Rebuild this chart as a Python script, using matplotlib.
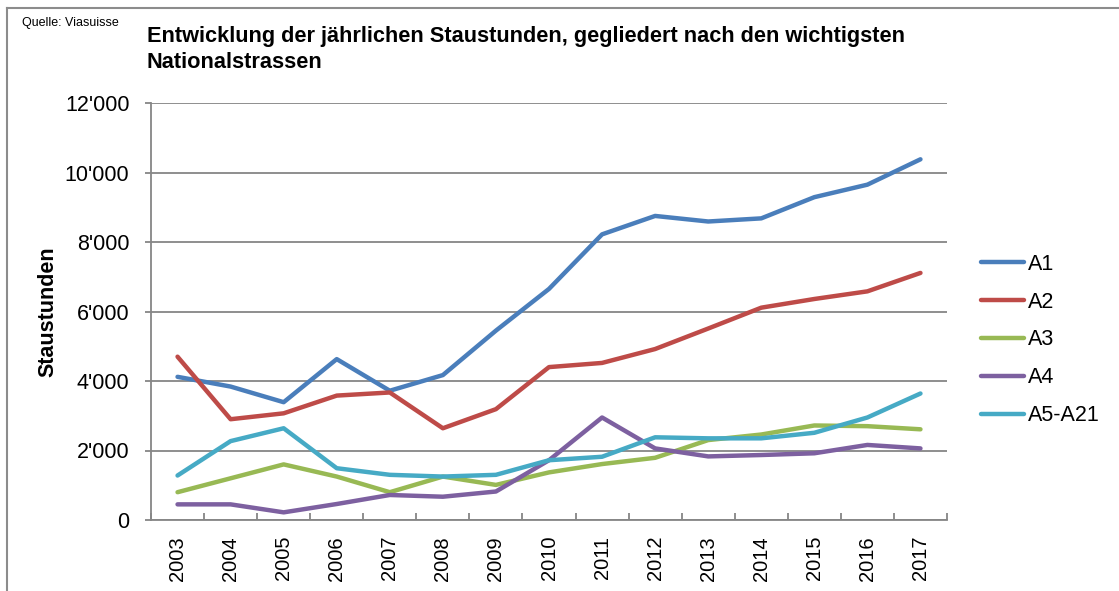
import matplotlib
matplotlib.use("Agg")
import matplotlib.pyplot as plt
from matplotlib.ticker import FuncFormatter, MultipleLocator, FixedLocator
from matplotlib.lines import Line2D

plt.rcParams['font.family'] = ['Liberation Sans', 'DejaVu Sans']

years = [str(y) for y in range(2003, 2018)]
a1 = [4120, 3840, 3390, 4630, 3720, 4170, 5450, 6650, 8220, 8750, 8590, 8680, 9290, 9650, 10380]
a2 = [4700, 2900, 3070, 3580, 3670, 2640, 3190, 4400, 4520, 4920, 5510, 6110, 6360, 6580, 7110]
a3 = [800, 1200, 1600, 1250, 800, 1250, 1010, 1370, 1610, 1790, 2300, 2460, 2720, 2700, 2610]
a4 = [450, 450, 220, 460, 720, 670, 820, 1720, 2950, 2060, 1830, 1870, 1920, 2160, 2060]
a5 = [1280, 2270, 2640, 1490, 1300, 1250, 1300, 1720, 1820, 2380, 2350, 2350, 2510, 2950, 3640]

series = [("A1", a1, "#4A7EBB"), ("A2", a2, "#BE4B48"), ("A3", a3, "#98B954"),
          ("A4", a4, "#7D60A0"), ("A5-A21", a5, "#46AAC5")]

title_lines = ["Entwicklung der jährlichen Staustunden, gegliedert nach den wichtigsten",
               "Nationalstrassen"]

fig = plt.figure(figsize=(11.19, 5.91), dpi=100)
ax = fig.add_axes([151/1119, 71/591, (947-151)/1119, (520-103)/591])

x = list(range(len(years)))
for name, vals, col in series:
    ax.plot(x, vals, color=col, lw=3.2, solid_capstyle='round', solid_joinstyle='round', label=name, zorder=3)

grid_col = "#868686"
ax.set_xlim(-0.5, len(years) - 0.5)
ax.set_ylim(0, 12000)
ax.yaxis.set_major_locator(MultipleLocator(2000))
ax.yaxis.set_major_formatter(FuncFormatter(lambda v, p: f"{int(v):,}".replace(",", "'")))
ax.grid(axis='y', color=grid_col, lw=1.3, zorder=1)
ax.set_axisbelow(True)

ax.set_xticks(x)
ax.set_xticklabels(years, rotation=90, fontsize=14.5)
ax.tick_params(axis='x', which='major', length=0, pad=11.5)
ax.xaxis.set_minor_locator(FixedLocator([i - 0.5 for i in range(len(years) + 1)]))
ax.tick_params(axis='x', which='minor', direction='in', length=5, color=grid_col, width=1.3)
ax.tick_params(axis='y', direction='out', length=4, color=grid_col, width=1.3, labelsize=15.5, pad=11.5)

for s in ['top', 'right']:
    ax.spines[s].set_visible(False)
for s in ['left', 'bottom']:
    ax.spines[s].set_color(grid_col)
    ax.spines[s].set_linewidth(1.3)

ax.set_ylabel("Staustunden", fontsize=15.5, fontweight='bold', labelpad=4.5)

leg = fig.legend(loc='center left', bbox_to_anchor=(981/1119, (591-340)/591), frameon=False,
                 fontsize=15.5, handlelength=2.0, handletextpad=0.2, labelspacing=0.78,
                 borderpad=0, borderaxespad=0)
for h in leg.legend_handles:
    h.set_solid_capstyle('round')

fig.text(147/1119, 1 - 42/591, title_lines[0], fontsize=15.7, fontweight='bold', va='baseline', ha='left')
fig.text(147/1119, 1 - 68/591, title_lines[1], fontsize=15.7, fontweight='bold', va='baseline', ha='left')
fig.text(22/1119, 1 - 26/591, "Quelle: Viasuisse", fontsize=9, va='baseline', ha='left')

# outer frame
fig.add_artist(Line2D([7/1119, 7/1119], [0, 1 - 8/591], transform=fig.transFigure, color="#8c8c8c", lw=1.5))
fig.add_artist(Line2D([7/1119, 1], [1 - 8/591, 1 - 8/591], transform=fig.transFigure, color="#8c8c8c", lw=1.5))

fig.savefig("out.png", dpi=100)
